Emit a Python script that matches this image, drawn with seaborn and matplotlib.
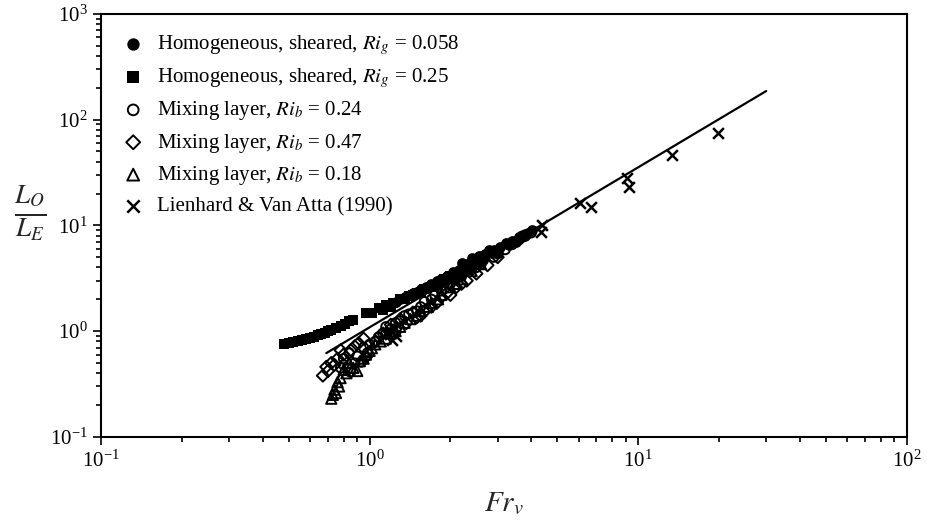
import numpy as np
import pandas as pd
import matplotlib
matplotlib.use("Agg")
import matplotlib.pyplot as plt
import seaborn as sns

# ---- data ----
hs058_x = [1.25, 1.3, 1.35, 1.45, 1.5, 1.55, 1.62, 1.65, 1.7, 1.78, 1.8, 1.85, 1.9, 1.95,
           2.0, 2.05, 2.1, 2.15, 2.2, 2.25, 2.3, 2.35, 2.4, 2.5, 2.55, 2.65, 2.7, 2.78,
           2.85, 2.9, 3.0, 3.05, 3.22, 3.3, 3.4, 3.5, 3.6, 3.7, 3.8, 3.9, 4.02]
hs058_y = [1.9, 2.0, 2.1, 2.3, 2.35, 2.5, 2.6, 2.55, 2.8, 3.0, 2.75, 3.1, 3.0, 3.3,
           3.2, 3.6, 3.4, 3.8, 4.4, 4.0, 4.3, 3.9, 4.9, 4.5, 5.1, 4.7, 5.4, 5.8,
           5.5, 5.9, 5.5, 6.3, 6.8, 6.5, 7.1, 7.0, 7.7, 7.8, 8.2, 8.5, 9.0]

hs025_x = [0.48, 0.50, 0.52, 0.54, 0.56, 0.58, 0.60, 0.62, 0.64, 0.66, 0.68, 0.70, 0.72,
           0.75, 0.78, 0.81, 0.84, 0.87, 0.97, 1.02, 1.08, 1.12, 1.15, 1.2, 1.22, 1.3,
           1.35, 1.4, 1.45, 1.5, 1.55, 1.6, 1.7, 1.75, 1.8, 1.9, 2.0, 2.1, 2.2, 2.3,
           2.4, 2.5]
hs025_y = [0.75, 0.77, 0.79, 0.81, 0.83, 0.85, 0.87, 0.89, 0.92, 0.94, 0.97, 1.00, 1.03,
           1.07, 1.12, 1.18, 1.24, 1.27, 1.48, 1.5, 1.65, 1.6, 1.75, 1.7, 1.85, 2.0,
           2.0, 2.15, 2.2, 2.3, 2.35, 2.5, 2.6, 2.75, 2.75, 3.1, 3.3, 3.5, 3.6, 3.9,
           4.1, 4.3]

ml024_x = [0.78, 0.80, 0.80, 0.83, 0.84, 0.85, 0.88, 0.90, 0.93, 0.95, 0.98, 1.0, 1.05,
           1.08, 1.12, 1.15, 1.2, 1.25, 1.3, 1.35, 1.4, 1.5, 1.55, 1.6, 1.7, 1.75, 1.85,
           2.0, 2.1, 2.2, 2.4, 2.5, 2.6, 2.9, 3.0, 3.2, 3.4, 3.6, 3.7, 3.8, 4.0]
ml024_y = [0.45, 0.48, 0.55, 0.44, 0.62, 0.41, 0.50, 0.58, 0.51, 0.70, 0.62, 0.75, 0.80,
           0.88, 0.95, 1.1, 1.05, 1.2, 1.25, 1.4, 1.45, 1.55, 1.7, 1.9, 2.0, 2.2, 2.4,
           2.8, 3.1, 3.3, 3.8, 4.0, 4.3, 5.0, 5.4, 5.9, 6.6, 7.3, 7.9, 7.9, 8.5]

ml047_x = [0.67, 0.69, 0.70, 0.72, 0.74, 0.76, 0.78, 0.80, 0.85, 0.88, 0.91, 0.95, 0.97,
           1.05, 1.1, 1.15, 1.2, 1.25, 1.3, 1.37, 1.45, 1.5, 1.55, 1.62, 1.7, 1.78, 1.85,
           1.94, 2.0, 2.1, 2.2, 2.3, 2.5, 2.75, 3.0]
ml047_y = [0.38, 0.46, 0.42, 0.50, 0.48, 0.55, 0.66, 0.60, 0.66, 0.72, 0.77, 0.85, 0.57,
           0.80, 0.92, 0.95, 1.15, 1.05, 1.3, 1.19, 1.5, 1.35, 1.4, 1.58, 1.7, 1.85, 2.1,
           2.29, 2.2, 2.6, 2.8, 3.0, 3.5, 4.2, 5.0]

ml018_x = [0.72, 0.73, 0.74, 0.75, 0.76, 0.77, 0.78, 0.80, 0.82, 0.84, 0.87, 0.90, 0.92,
           0.95, 0.97, 1.0, 1.02, 1.05, 1.1, 1.15, 1.2, 1.25, 1.3, 1.35, 1.42, 1.5, 1.55,
           1.65, 1.7, 1.8, 1.85, 2.0, 2.1, 2.2, 2.4, 2.6]
ml018_y = [0.23, 0.25, 0.28, 0.26, 0.33, 0.30, 0.36, 0.43, 0.40, 0.50, 0.45, 0.42, 0.52,
           0.55, 0.60, 0.65, 0.69, 0.75, 0.80, 0.85, 0.95, 1.0, 1.1, 1.2, 1.3, 1.4, 1.55,
           1.7, 1.85, 2.0, 2.2, 2.6, 2.8, 3.1, 3.7, 4.3]

lva_x = [1.16, 1.21, 1.25, 4.38, 4.35, 6.1, 6.7, 9.1, 9.25, 13.4, 19.8]
lva_y = [0.98, 0.82, 0.90, 10.0, 8.7, 16.2, 14.9, 28.0, 23.0, 46.0, 74.0]

fit_x = [0.69, 30.0]
fit_y = [0.62, 186.0]

labels = [
    r"Homogeneous, sheared, $Ri_g$ = 0.058",
    r"Homogeneous, sheared, $Ri_g$ = 0.25",
    r"Mixing layer, $Ri_b$ = 0.24",
    r"Mixing layer, $Ri_b$ = 0.47",
    r"Mixing layer, $Ri_b$ = 0.18",
    "Lienhard & Van Atta (1990)",
]

# ---- style ----
sns.set_theme(style="ticks")
plt.rcParams["font.family"] = ["Liberation Serif", "DejaVu Serif"]
plt.rcParams["mathtext.fontset"] = "stix"

fig = plt.figure(figsize=(9.27, 5.29), dpi=100)
ax = fig.add_axes([0.109, 0.174, 0.869, 0.80])

series = [
    (hs058_x, hs058_y, "o", "black", 0),
    (hs025_x, hs025_y, "s", "black", 0),
    (ml024_x, ml024_y, "o", "none", 1.4),
    (ml047_x, ml047_y, "D", "none", 1.4),
    (ml018_x, ml018_y, "^", "none", 1.4),
    (lva_x, lva_y, "x", "black", 1.8),
]
sizes = [60, 48, 45, 38, 55, 60]

for (xs, ys, mk, fc, lw), lab, sz in zip(series, labels, sizes):
    df = pd.DataFrame({"x": xs, "y": ys})
    if mk == "x":
        sns.scatterplot(data=df, x="x", y="y", marker=mk, color="black", s=sz,
                        linewidth=lw, ax=ax, label=lab, zorder=3)
    else:
        sns.scatterplot(data=df, x="x", y="y", marker=mk, facecolor=fc,
                        edgecolor="black", s=sz, linewidth=lw, ax=ax, label=lab,
                        zorder=3)

fit_df = pd.DataFrame({"x": fit_x, "y": fit_y})
sns.lineplot(data=fit_df, x="x", y="y", color="black", linewidth=1.6, ax=ax,
             zorder=4, legend=False)

ax.set_xscale("log")
ax.set_yscale("log")
ax.set_xlim(0.1, 100)
ax.set_ylim(0.1, 1000)

for sp in ax.spines.values():
    sp.set_linewidth(1.5)
    sp.set_color("black")

ax.tick_params(which="both", direction="out", top=False, right=False,
               colors="black", labelsize=15, width=1.2)
ax.tick_params(which="major", length=6)
ax.tick_params(which="minor", length=3.5)
ax.xaxis.set_minor_locator(matplotlib.ticker.LogLocator(base=10, subs=np.arange(2, 10)))
ax.yaxis.set_minor_locator(matplotlib.ticker.LogLocator(base=10, subs=np.arange(2, 10)))
ax.xaxis.set_minor_formatter(matplotlib.ticker.NullFormatter())
ax.yaxis.set_minor_formatter(matplotlib.ticker.NullFormatter())

ax.set_xlabel(r"$Fr_v$", fontsize=21, labelpad=14)
ax.set_ylabel(r"$\frac{L_O}{L_E}$", fontsize=28, rotation=0, va="center", ha="center")
ax.yaxis.set_label_coords(-0.088, 0.53)

leg = ax.legend(loc="upper left", frameon=False, fontsize=15, handletextpad=0.65,
                labelspacing=0.45, borderaxespad=0.0, markerscale=1.15,
                handlelength=1.0, borderpad=0.0, bbox_to_anchor=(0.027, 0.955))
for t in leg.get_texts():
    t.set_color("black")

fig.savefig("out.png", dpi=100)
